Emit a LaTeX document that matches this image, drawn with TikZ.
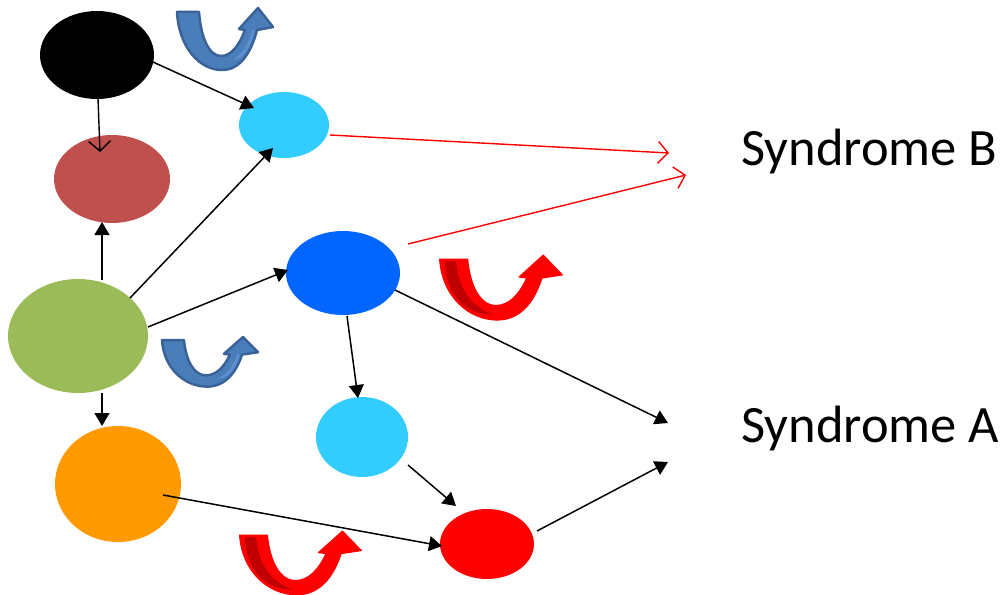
\documentclass[tikz,border=0pt]{standalone}
\usepackage{fontspec}
\setmainfont{Carlito}
\usetikzlibrary{shapes.geometric,arrows.meta}
\definecolor{cblack}{HTML}{000000}
\definecolor{cbrown}{HTML}{C0504D}
\definecolor{clight}{HTML}{33CCFF}
\definecolor{cgreen}{HTML}{9BBB59}
\definecolor{cblue}{HTML}{0066FF}
\definecolor{corange}{HTML}{FF9900}
\definecolor{cred}{HTML}{FF0000}
\definecolor{ublue}{HTML}{4A7EBB}
\definecolor{ubluelight}{HTML}{5B8FD0}
\definecolor{ubluedark}{HTML}{3A6297}
\definecolor{ureddark}{HTML}{C00000}
\tikzset{
  blob/.style={ellipse, draw=none, inner sep=0pt},
  link/.style={black, line width=1.5pt, -{Triangle[length=13pt,width=15pt]}},
  openlink/.style={line width=1.4pt, -{Straight Barb[length=10pt,width=22pt]}},
  redlink/.style={openlink, cred},
  lbl/.style={anchor=base west, inner sep=0pt, font=\fontsize{52.5}{60}\selectfont},
  uarrow/.pic={
    \path[pic actions]
      (2,4) -- (24,4) .. controls (26,30) and (34,48) .. (46,48)
      .. controls (56,48) and (64,38) .. (70,22)
      -- (64,21) -- (83,0) -- (98,19) -- (82,22)
      .. controls (76,45) and (65,62) .. (47,62)
      .. controls (25,62) and (4,40) .. (2,4) -- cycle;
  },
  ustripe/.pic={
    \path[pic actions]
      (6,6) -- (15,6) .. controls (17,34) and (28,50) .. (44,57)
      .. controls (22,56) and (8,40) .. (6,6) -- cycle;
  },
  ustripeb/.pic={
    \path[pic actions]
      (58,52) .. controls (68,45) and (74,35) .. (77,22) -- (80,22)
      .. controls (76,40) and (68,52) .. (58,52) -- cycle;
  },
  ublue/.style={fill=ublue, draw=ubluedark, line width=2.5pt, line join=round},
  ured/.style={fill=cred, draw=cred, line width=1pt, line join=round},
}
\begin{document}
\begin{tikzpicture}[x=1pt,y=-1pt]
\useasboundingbox (0,0) rectangle (1003,594);
% nodes
\node[blob, fill=cblack, minimum width=114pt, minimum height=88pt] (k) at (97,55) {};
\node[blob, fill=cbrown, minimum width=116pt, minimum height=88pt] (br) at (112,179) {};
\node[blob, fill=clight, minimum width=90pt, minimum height=66pt] (l1) at (284,125) {};
\node[blob, fill=cgreen, minimum width=140pt, minimum height=114pt] (g) at (78,336) {};
\node[blob, fill=cblue, minimum width=114pt, minimum height=84pt] (b) at (343,273) {};
\node[blob, fill=clight, minimum width=92pt, minimum height=80pt] (l2) at (362,437) {};
\node[blob, fill=corange, minimum width=126pt, minimum height=116pt] (o) at (118,484) {};
\node[blob, fill=cred, minimum width=94pt, minimum height=70pt] (r) at (487,544) {};
% labels
\node[lbl] (sb) at (741,165) {Syndrome B};
\node[lbl] (sa) at (741,442) {Syndrome A};
% free ends
\coordinate (kb) at (100,152);
\coordinate (eb1) at (669,153);
\coordinate (eb2) at (686,175);
\coordinate (ea1) at (668,423);
\coordinate (ea2) at (668,462);
% black links
\draw[openlink, black] (98,98) -- (kb);
\draw[link] (153,62) -- (254,108);
\draw[link] (102,280) -- (102,222);
\draw[link] (130,298) -- (273,148);
\draw[link] (148,327) -- (288,270);
\draw[link] (102,393) -- (102,426);
\draw[link] (347,316) -- (358,398);
\draw[link] (395,290) -- (ea1);
\draw[link] (408,465) -- (456,506);
\draw[link] (163,495) -- (442,546);
\draw[link] (537,531) -- (ea2);
% red links
\draw[redlink] (330,135) -- (eb1);
\draw[redlink] (408,244) -- (eb2);
% U arrows
\pic[ublue] (u1) at (175,8) {uarrow};
\pic[fill=ubluelight] (u1s) at (175,8) {ustripeb};
\pic[ublue, yscale=0.8] (u2) at (160,337) {uarrow};
\pic[fill=ubluelight, yscale=0.8] (u2s) at (160,337) {ustripeb};
\pic[ured, xscale=1.28, yscale=1.05] (u3) at (437,255) {uarrow};
\pic[fill=ureddark, xscale=1.28, yscale=1.05] (u3s) at (437,255) {ustripe};
\pic[ured, xscale=1.27, yscale=1.03] (u4) at (237,531) {uarrow};
\pic[fill=ureddark, xscale=1.27, yscale=1.03] (u4s) at (237,531) {ustripe};
\end{tikzpicture}
\end{document}
